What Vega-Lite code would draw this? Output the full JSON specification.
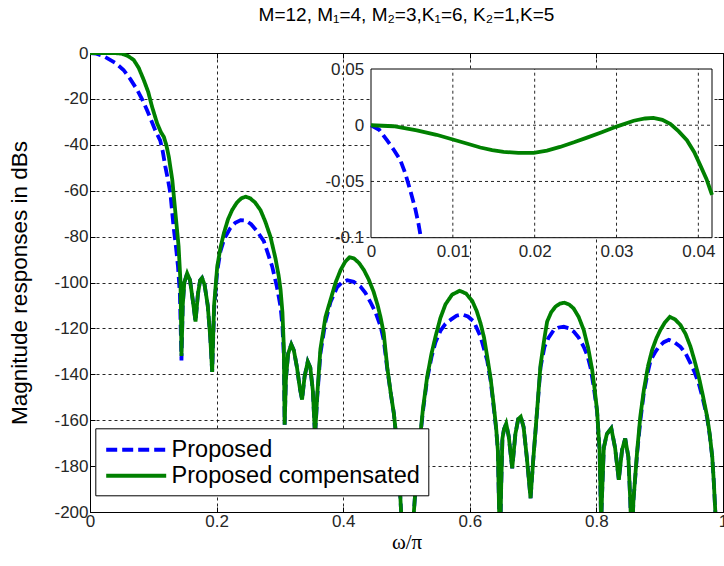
{
  "$schema": "https://vega.github.io/schema/vega-lite/v6.json",
  "width": 633,
  "height": 459,
  "autosize": "none",
  "padding": {"left": 90, "top": 53, "right": 1, "bottom": 54},
  "background": "#ffffff",
  "title": {"text": "M=12, M₁=4, M₂=3,K₁=6, K₂=1,K=5", "font": "Liberation Sans", "fontSize": 19, "fontWeight": "normal", "color": "#000000", "anchor": "middle", "frame": "group", "baseline": "alphabetic", "offset": 4},
  "config": {"view": {"stroke": "#000000", "strokeWidth": 1}},
  "datasets": {
    "green": [{"x":0,"y":0},{"x":0.01,"y":0},{"x":0.02,"y":0},{"x":0.03,"y":0},{"x":0.04,"y":-0.05},{"x":0.05,"y":-0.3},{"x":0.06,"y":-1.3},{"x":0.069,"y":-3},{"x":0.077,"y":-6.5},{"x":0.085,"y":-11.8},{"x":0.092,"y":-17},{"x":0.098,"y":-23.4},{"x":0.106,"y":-30.6},{"x":0.112,"y":-34.5},{"x":0.1166,"y":-36.5},{"x":0.1205,"y":-40},{"x":0.1245,"y":-45.2},{"x":0.13,"y":-55.3},{"x":0.135,"y":-69.8},{"x":0.14,"y":-84.4},{"x":0.143,"y":-100},{"x":0.1445,"y":-132},{"x":0.1465,"y":-110},{"x":0.149,"y":-100},{"x":0.1535,"y":-96},{"x":0.158,"y":-99},{"x":0.1625,"y":-108},{"x":0.1667,"y":-117},{"x":0.1705,"y":-105},{"x":0.174,"y":-99},{"x":0.177,"y":-98},{"x":0.181,"y":-101},{"x":0.186,"y":-110},{"x":0.19,"y":-124},{"x":0.193,"y":-139},{"x":0.196,"y":-110},{"x":0.201,"y":-93},{"x":0.206,"y":-85},{"x":0.2114,"y":-78.6},{"x":0.218,"y":-72.5},{"x":0.2246,"y":-68.4},{"x":0.232,"y":-65.2},{"x":0.239,"y":-63.3},{"x":0.246,"y":-62.6},{"x":0.253,"y":-63.3},{"x":0.261,"y":-65.2},{"x":0.2694,"y":-68.5},{"x":0.277,"y":-73.5},{"x":0.285,"y":-80},{"x":0.293,"y":-89.5},{"x":0.298,"y":-97},{"x":0.301,"y":-103},{"x":0.304,"y":-113},{"x":0.3062,"y":-128},{"x":0.3075,"y":-162},{"x":0.3095,"y":-142},{"x":0.313,"y":-131},{"x":0.318,"y":-127},{"x":0.322,"y":-129.5},{"x":0.327,"y":-137},{"x":0.3315,"y":-146},{"x":0.335,"y":-151},{"x":0.339,"y":-141},{"x":0.344,"y":-134.5},{"x":0.348,"y":-137},{"x":0.352,"y":-147},{"x":0.3555,"y":-167},{"x":0.359,"y":-149},{"x":0.364,"y":-129},{"x":0.372,"y":-115},{"x":0.38,"y":-107.5},{"x":0.388,"y":-100},{"x":0.396,"y":-94.5},{"x":0.403,"y":-91},{"x":0.41,"y":-89},{"x":0.417,"y":-89.5},{"x":0.425,"y":-91.5},{"x":0.4326,"y":-94.5},{"x":0.44,"y":-98.5},{"x":0.448,"y":-104},{"x":0.4545,"y":-110},{"x":0.4589,"y":-115},{"x":0.464,"y":-122},{"x":0.4695,"y":-136.7},{"x":0.475,"y":-148},{"x":0.48,"y":-157},{"x":0.4845,"y":-169},{"x":0.4878,"y":-180.3},{"x":0.4916,"y":-200.6},{"x":0.495,"y":-225},{"x":0.5,"y":-212},{"x":0.505,"y":-212},{"x":0.508,"y":-225},{"x":0.5115,"y":-200.6},{"x":0.5155,"y":-185},{"x":0.5195,"y":-173},{"x":0.526,"y":-155},{"x":0.5327,"y":-141},{"x":0.5395,"y":-131},{"x":0.5458,"y":-123.6},{"x":0.5535,"y":-115.5},{"x":0.5616,"y":-109.5},{"x":0.572,"y":-105.3},{"x":0.584,"y":-103.6},{"x":0.594,"y":-104.8},{"x":0.6038,"y":-108},{"x":0.611,"y":-112.5},{"x":0.617,"y":-117.8},{"x":0.6225,"y":-124},{"x":0.6275,"y":-132.3},{"x":0.633,"y":-142},{"x":0.638,"y":-154},{"x":0.6415,"y":-163},{"x":0.6443,"y":-173},{"x":0.6464,"y":-200.6},{"x":0.6478,"y":-215},{"x":0.6495,"y":-190},{"x":0.6515,"y":-168},{"x":0.654,"y":-164},{"x":0.6575,"y":-161.5},{"x":0.6615,"y":-167},{"x":0.667,"y":-181},{"x":0.672,"y":-166},{"x":0.6765,"y":-159.5},{"x":0.6805,"y":-158.5},{"x":0.685,"y":-163},{"x":0.69,"y":-176},{"x":0.696,"y":-194},{"x":0.7,"y":-178},{"x":0.7065,"y":-155},{"x":0.7117,"y":-136},{"x":0.718,"y":-124},{"x":0.7222,"y":-117},{"x":0.7285,"y":-113},{"x":0.7354,"y":-110.5},{"x":0.7425,"y":-109.2},{"x":0.7496,"y":-108.8},{"x":0.757,"y":-109.6},{"x":0.764,"y":-111.3},{"x":0.772,"y":-115},{"x":0.78,"y":-120.7},{"x":0.787,"y":-128.5},{"x":0.7933,"y":-138},{"x":0.797,"y":-146},{"x":0.801,"y":-155.6},{"x":0.805,"y":-173},{"x":0.8075,"y":-205},{"x":0.809,"y":-192},{"x":0.8117,"y":-172},{"x":0.8165,"y":-166},{"x":0.8235,"y":-163.5},{"x":0.8295,"y":-172},{"x":0.8354,"y":-186},{"x":0.8405,"y":-173},{"x":0.8455,"y":-168},{"x":0.8505,"y":-176},{"x":0.8535,"y":-195},{"x":0.8558,"y":-215},{"x":0.8585,"y":-195},{"x":0.8645,"y":-173},{"x":0.8695,"y":-158},{"x":0.875,"y":-146.8},{"x":0.8815,"y":-136.5},{"x":0.888,"y":-129.4},{"x":0.8945,"y":-124.5},{"x":0.901,"y":-120.7},{"x":0.908,"y":-117.5},{"x":0.916,"y":-115},{"x":0.924,"y":-116},{"x":0.9328,"y":-118.5},{"x":0.941,"y":-122.5},{"x":0.9487,"y":-128},{"x":0.955,"y":-134},{"x":0.9617,"y":-141},{"x":0.968,"y":-149},{"x":0.975,"y":-158.5},{"x":0.979,"y":-166},{"x":0.983,"y":-175.9},{"x":0.9855,"y":-187},{"x":0.988,"y":-200.6},{"x":0.992,"y":-225},{"x":1,"y":-240}],
    "blue": [{"x":0,"y":0},{"x":0.01,"y":-0.3},{"x":0.02,"y":-1.2},{"x":0.027,"y":-2.2},{"x":0.04,"y":-4.3},{"x":0.053,"y":-7.4},{"x":0.064,"y":-11.5},{"x":0.0746,"y":-16.1},{"x":0.083,"y":-20.5},{"x":0.09,"y":-24.8},{"x":0.097,"y":-29.5},{"x":0.103,"y":-33.6},{"x":0.108,"y":-36.5},{"x":0.111,"y":-38.2},{"x":0.115,"y":-43},{"x":0.119,"y":-49.5},{"x":0.123,"y":-55},{"x":0.127,"y":-61.1},{"x":0.132,"y":-75.7},{"x":0.136,"y":-85},{"x":0.139,"y":-93},{"x":0.142,"y":-105},{"x":0.1445,"y":-134},{"x":0.1465,"y":-110},{"x":0.149,"y":-100},{"x":0.1535,"y":-96},{"x":0.158,"y":-99},{"x":0.1625,"y":-108},{"x":0.1667,"y":-117},{"x":0.1705,"y":-105},{"x":0.174,"y":-99},{"x":0.177,"y":-98},{"x":0.181,"y":-101},{"x":0.186,"y":-110},{"x":0.19,"y":-124},{"x":0.193,"y":-139},{"x":0.196,"y":-112},{"x":0.201,"y":-95},{"x":0.206,"y":-86.5},{"x":0.212,"y":-81},{"x":0.2212,"y":-76.5},{"x":0.2295,"y":-74},{"x":0.238,"y":-72.8},{"x":0.246,"y":-73},{"x":0.2545,"y":-74.6},{"x":0.2635,"y":-77.5},{"x":0.2746,"y":-82},{"x":0.2878,"y":-93},{"x":0.295,"y":-101.5},{"x":0.301,"y":-110.5},{"x":0.304,"y":-119},{"x":0.3062,"y":-132},{"x":0.3075,"y":-162},{"x":0.3095,"y":-142},{"x":0.313,"y":-131},{"x":0.318,"y":-127},{"x":0.322,"y":-129.5},{"x":0.327,"y":-137},{"x":0.3315,"y":-146},{"x":0.335,"y":-151},{"x":0.339,"y":-141},{"x":0.344,"y":-134.5},{"x":0.348,"y":-137},{"x":0.352,"y":-147},{"x":0.3555,"y":-167},{"x":0.359,"y":-150},{"x":0.364,"y":-131},{"x":0.372,"y":-117},{"x":0.38,"y":-108.5},{"x":0.3905,"y":-102},{"x":0.398,"y":-100},{"x":0.4063,"y":-99},{"x":0.4165,"y":-99.7},{"x":0.4273,"y":-101.8},{"x":0.435,"y":-104.5},{"x":0.443,"y":-108.5},{"x":0.451,"y":-113},{"x":0.459,"y":-119},{"x":0.464,"y":-125},{"x":0.4695,"y":-137.5},{"x":0.475,"y":-148},{"x":0.48,"y":-157},{"x":0.4845,"y":-169},{"x":0.4878,"y":-180.3},{"x":0.4916,"y":-200.6},{"x":0.495,"y":-225},{"x":0.5,"y":-212},{"x":0.505,"y":-212},{"x":0.508,"y":-225},{"x":0.5115,"y":-200.6},{"x":0.5155,"y":-185},{"x":0.5195,"y":-173},{"x":0.526,"y":-156},{"x":0.5327,"y":-142},{"x":0.5395,"y":-132.5},{"x":0.5458,"y":-126},{"x":0.5537,"y":-121},{"x":0.5615,"y":-118},{"x":0.5695,"y":-116.3},{"x":0.579,"y":-114.5},{"x":0.588,"y":-113.9},{"x":0.597,"y":-114.8},{"x":0.6063,"y":-117},{"x":0.617,"y":-123.6},{"x":0.6275,"y":-134},{"x":0.633,"y":-143},{"x":0.638,"y":-155},{"x":0.6415,"y":-163.5},{"x":0.6443,"y":-173},{"x":0.6464,"y":-200.6},{"x":0.6478,"y":-215},{"x":0.6495,"y":-190},{"x":0.6515,"y":-168},{"x":0.654,"y":-164},{"x":0.6575,"y":-161.5},{"x":0.6615,"y":-167},{"x":0.667,"y":-181},{"x":0.672,"y":-166},{"x":0.6765,"y":-159.5},{"x":0.6805,"y":-158.5},{"x":0.685,"y":-163},{"x":0.69,"y":-176},{"x":0.696,"y":-194},{"x":0.7,"y":-178},{"x":0.7065,"y":-155.5},{"x":0.7117,"y":-137},{"x":0.718,"y":-128},{"x":0.7245,"y":-124},{"x":0.7327,"y":-120.7},{"x":0.7405,"y":-119.6},{"x":0.7485,"y":-119.3},{"x":0.7565,"y":-119.9},{"x":0.7643,"y":-121.4},{"x":0.772,"y":-124},{"x":0.78,"y":-128},{"x":0.786,"y":-132},{"x":0.7907,"y":-137},{"x":0.7955,"y":-145},{"x":0.801,"y":-156},{"x":0.805,"y":-173},{"x":0.8075,"y":-205},{"x":0.809,"y":-192},{"x":0.8117,"y":-172},{"x":0.8165,"y":-166},{"x":0.8235,"y":-163.5},{"x":0.8295,"y":-172},{"x":0.8354,"y":-186},{"x":0.8405,"y":-173},{"x":0.8455,"y":-168},{"x":0.8505,"y":-176},{"x":0.8535,"y":-195},{"x":0.8558,"y":-215},{"x":0.8585,"y":-195},{"x":0.8645,"y":-174},{"x":0.8695,"y":-160},{"x":0.875,"y":-148},{"x":0.8805,"y":-140},{"x":0.8855,"y":-134},{"x":0.8925,"y":-130.5},{"x":0.8987,"y":-128},{"x":0.9065,"y":-126},{"x":0.9144,"y":-125},{"x":0.923,"y":-126},{"x":0.9328,"y":-128},{"x":0.941,"y":-131},{"x":0.9487,"y":-135.2},{"x":0.955,"y":-139},{"x":0.9617,"y":-144},{"x":0.968,"y":-150.5},{"x":0.975,"y":-159},{"x":0.979,"y":-166.5},{"x":0.983,"y":-176},{"x":0.9855,"y":-187},{"x":0.988,"y":-200.6},{"x":0.992,"y":-225},{"x":1,"y":-240}],
    "igreen": [{"x":0,"y":0},{"x":0.00276,"y":-0.0009},{"x":0.0056,"y":-0.0045},{"x":0.008,"y":-0.0085},{"x":0.01,"y":-0.0127},{"x":0.0118,"y":-0.0165},{"x":0.01335,"y":-0.0198},{"x":0.0148,"y":-0.0222},{"x":0.0162,"y":-0.0237},{"x":0.018,"y":-0.0246},{"x":0.0199,"y":-0.0246},{"x":0.0215,"y":-0.0225},{"x":0.0231,"y":-0.0193},{"x":0.0248,"y":-0.0152},{"x":0.0264,"y":-0.011},{"x":0.0282,"y":-0.0062},{"x":0.03,"y":-0.0012},{"x":0.0321,"y":0.004},{"x":0.0335,"y":0.006},{"x":0.0345,"y":0.0065},{"x":0.0356,"y":0.0048},{"x":0.0366,"y":0.001},{"x":0.0376,"y":-0.0055},{"x":0.0386,"y":-0.0133},{"x":0.0395,"y":-0.024},{"x":0.0402,"y":-0.035},{"x":0.041,"y":-0.048},{"x":0.041667,"y":-0.062}],
    "iblue": [{"x":0,"y":0},{"x":0.001,"y":-0.004},{"x":0.00195,"y":-0.0133},{"x":0.0028,"y":-0.022},{"x":0.00358,"y":-0.031},{"x":0.0042,"y":-0.043},{"x":0.0048,"y":-0.058},{"x":0.0054,"y":-0.074},{"x":0.0058,"y":-0.0875},{"x":0.0061,"y":-0.1}],
    "ibox": [{"x1":0,"x2":0.041667,"y1":-0.1,"y2":0.05}],
    "igx": [{"v":0.01},{"v":0.02},{"v":0.03},{"v":0.04}],
    "igy": [{"v":0},{"v":-0.05}]
  },
  "layer": [
    {
      "layer": [
        {
          "data": {"name": "blue"},
          "mark": {"type": "line", "clip": true, "strokeWidth": 3.8},
          "encoding": {
            "x": {"field": "x", "type": "quantitative", "scale": {"domain": [0, 1], "nice": false, "zero": false},
              "axis": {"orient": "bottom", "values": [0, 0.2, 0.4, 0.6, 0.8, 1], "labelExpr": "toString(datum.value)", "title": "ω/π", "titleFont": "Liberation Serif", "titleFontSize": 21, "titleFontWeight": "normal", "titleColor": "#000000", "titlePadding": 2, "grid": true, "gridColor": "#000000", "gridDash": [3, 3], "gridOpacity": 0.85, "gridWidth": 1, "domain": false, "ticks": true, "tickSize": -5, "tickColor": "#000000", "labelFont": "Liberation Sans", "labelFontSize": 17, "labelColor": "#262626", "labelPadding": 6, "labelFlush": false, "labelOverlap": false, "zindex": 0}},
            "y": {"field": "y", "type": "quantitative", "scale": {"domain": [-200, 0], "nice": false, "zero": false},
              "axis": {"orient": "left", "values": [-200, -180, -160, -140, -120, -100, -80, -60, -40, -20, 0], "labelExpr": "toString(datum.value)", "title": "Magnitude responses in dBs", "titleFont": "Liberation Sans", "titleFontSize": 22.5, "titleFontWeight": "normal", "titleColor": "#000000", "titlePadding": 22, "grid": true, "gridColor": "#000000", "gridDash": [3, 3], "gridOpacity": 0.85, "gridWidth": 1, "domain": false, "ticks": true, "tickSize": -5, "tickColor": "#000000", "labelFont": "Liberation Sans", "labelFontSize": 17, "labelColor": "#262626", "labelPadding": 7, "labelFlush": false, "labelOverlap": false, "zindex": 0}},
            "color": {"datum": "Proposed", "type": "nominal", "scale": {"domain": ["Proposed", "Proposed compensated"], "range": ["#0000ff", "#008000"]},
              "legend": {"title": null, "orient": "none", "legendX": 5.3, "legendY": 375.3, "symbolType": "M-2.5,0H2.5", "symbolSize": 576, "symbolStrokeWidth": 4, "symbolOffset": 19.4, "labelOffset": 21.4, "labelFont": "Liberation Sans", "labelFontSize": 23.5, "labelColor": "#000000", "labelLimit": 400, "padding": 7.5, "rowPadding": 0, "strokeColor": "#000000", "fillColor": "#ffffff", "cornerRadius": 0}},
            "strokeDash": {"datum": "Proposed", "type": "nominal", "scale": {"domain": ["Proposed", "Proposed compensated"], "range": [[11, 5], [1, 0]]},
              "legend": {"title": null, "orient": "none", "legendX": 5.3, "legendY": 375.3, "symbolType": "M-2.5,0H2.5", "symbolSize": 576, "symbolStrokeWidth": 4, "symbolOffset": 19.4, "labelOffset": 21.4, "labelFont": "Liberation Sans", "labelFontSize": 23.5, "labelColor": "#000000", "labelLimit": 400, "padding": 7.5, "rowPadding": 0, "strokeColor": "#000000", "fillColor": "#ffffff", "cornerRadius": 0}}
          }
        },
        {
          "data": {"name": "green"},
          "mark": {"type": "line", "clip": true, "strokeWidth": 3.8},
          "encoding": {
            "x": {"field": "x", "type": "quantitative",
              "axis": {"orient": "top", "values": [0, 0.2, 0.4, 0.6, 0.8, 1], "labels": false, "title": null, "grid": false, "domain": false, "ticks": true, "tickSize": -5, "tickColor": "#000000", "zindex": 0}},
            "y": {"field": "y", "type": "quantitative",
              "axis": {"orient": "right", "values": [-200, -180, -160, -140, -120, -100, -80, -60, -40, -20, 0], "labels": false, "title": null, "grid": false, "domain": false, "ticks": true, "tickSize": -5, "tickColor": "#000000", "zindex": 0}},
            "color": {"datum": "Proposed compensated", "type": "nominal"},
            "strokeDash": {"datum": "Proposed compensated", "type": "nominal"}
          }
        }
      ],
      "resolve": {"axis": {"x": "independent", "y": "independent"}}
    },
    {
      "layer": [
        {
          "data": {"name": "ibox"},
          "mark": {"type": "rect", "fill": "#ffffff", "stroke": "#000000", "strokeWidth": 1},
          "encoding": {
            "x": {"field": "x1", "type": "quantitative", "scale": {"domain": [0, 0.041667], "range": [281, 622], "nice": false, "zero": false},
              "axis": {"orient": "bottom", "offset": -274.3, "values": [0, 0.01, 0.02, 0.03, 0.04], "labelExpr": "toString(datum.value)", "title": null, "grid": false, "domain": false, "ticks": false, "labelFont": "Liberation Sans", "labelFontSize": 17, "labelColor": "#262626", "labelPadding": 6, "labelFlush": false, "labelOverlap": false, "zindex": 1}},
            "x2": {"field": "x2"},
            "y": {"field": "y1", "type": "quantitative", "scale": {"domain": [-0.1, 0.05], "range": [184.7, 16], "nice": false, "zero": false},
              "axis": {"orient": "left", "offset": -280.7, "values": [-0.1, -0.05, 0, 0.05], "labelExpr": "toString(datum.value)", "title": null, "grid": false, "domain": false, "ticks": false, "labelFont": "Liberation Sans", "labelFontSize": 17, "labelColor": "#262626", "labelPadding": 7, "labelFlush": false, "labelOverlap": false, "zindex": 1}},
            "y2": {"field": "y2"}
          }
        },
        {
          "data": {"name": "igx"},
          "mark": {"type": "rule", "stroke": "#000000", "strokeDash": [3, 3], "strokeWidth": 1, "opacity": 0.85},
          "encoding": {
            "x": {"field": "v", "type": "quantitative"},
            "y": {"datum": -0.1, "type": "quantitative"},
            "y2": {"datum": 0.05}
          }
        },
        {
          "data": {"name": "igy"},
          "mark": {"type": "rule", "stroke": "#000000", "strokeDash": [3, 3], "strokeWidth": 1, "opacity": 0.85},
          "encoding": {
            "y": {"field": "v", "type": "quantitative"},
            "x": {"datum": 0, "type": "quantitative"},
            "x2": {"datum": 0.041667}
          }
        },
        {
          "data": {"name": "iblue"},
          "mark": {"type": "line", "stroke": "#0000ff", "strokeDash": [11, 5], "strokeWidth": 3.8},
          "encoding": {
            "x": {"field": "x", "type": "quantitative"},
            "y": {"field": "y", "type": "quantitative"}
          }
        },
        {
          "data": {"name": "igreen"},
          "mark": {"type": "line", "stroke": "#008000", "strokeWidth": 3.8},
          "encoding": {
            "x": {"field": "x", "type": "quantitative"},
            "y": {"field": "y", "type": "quantitative"}
          }
        }
      ]
    }
  ],
  "resolve": {"scale": {"x": "independent", "y": "independent"}, "axis": {"x": "independent", "y": "independent"}}
}
